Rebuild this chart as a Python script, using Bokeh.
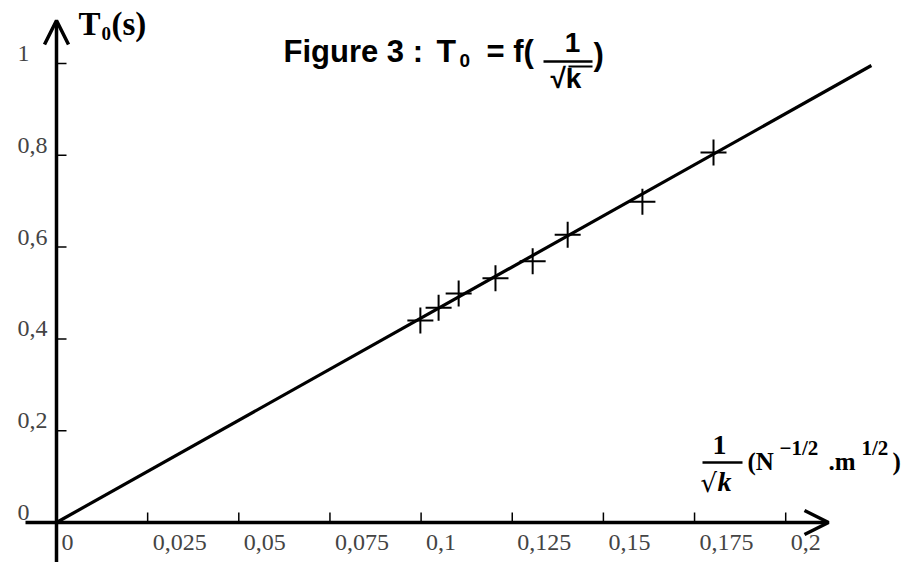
from bokeh.plotting import figure
from bokeh.models import Arrow, OpenHead
from bokeh.embed import file_html
from bokeh.resources import INLINE
from bokeh.core.properties import value

# ---- data ----
x_ticks = [0.025, 0.05, 0.075, 0.1, 0.125, 0.15, 0.175, 0.2]
x_label_vals = [0, 0.025, 0.05, 0.075, 0.1, 0.125, 0.15, 0.175, 0.2]
x_tick_labels = ["0", "0,025", "0,05", "0,075", "0,1", "0,125", "0,15", "0,175", "0,2"]
y_ticks = [0.2, 0.4, 0.6, 0.8, 1.0]
y_label_vals = [0, 0.2, 0.4, 0.6, 0.8, 1.0]
y_tick_labels = ["0", "0,2", "0,4", "0,6", "0,8", "1"]
inv_sqrt_k = [0.0998, 0.1048, 0.1103, 0.1204, 0.1306, 0.1402, 0.1607, 0.1802]
T0 = [0.440, 0.468, 0.499, 0.532, 0.569, 0.627, 0.699, 0.806]
fit_x = [0.0, 0.2235]
fit_y = [0.0, 0.9956]

# ---- layout constants (picture pixels -> data) ----
W, H = 909, 562
X0P, SX = 56.0, 3646.0   # picture x of x=0, px per unit
Y0P, SY = 522.0, 459.0   # picture y of y=0, px per unit


def px(xp):
    return (xp - X0P) / SX


def py(yp):
    return (Y0P - yp) / SY


p = figure(width=W, height=H, output_backend="svg", toolbar_location=None,
           x_range=(px(0), px(W)), y_range=(py(H), py(0)),
           x_axis_type=None, y_axis_type=None, min_border=0)
p.outline_line_color = None
p.grid.visible = False
p.background_fill_color = "white"
p.border_fill_color = "white"

# axes with arrow heads
p.add_layout(Arrow(end=OpenHead(size=24, line_width=3.5, line_color="black"),
                   x_start=px(25), y_start=0, x_end=px(828), y_end=0,
                   line_width=3.5, line_color="black"))
p.add_layout(Arrow(end=OpenHead(size=24, line_width=3.5, line_color="black"),
                   x_start=0, y_start=py(600), x_end=0, y_end=py(20),
                   line_width=3.5, line_color="black"))

# ticks
p.segment(x0=x_ticks, y0=[0] * len(x_ticks), x1=x_ticks, y1=[10 / SY] * len(x_ticks),
          line_color="black", line_width=1.5)
p.segment(x0=[0] * len(y_ticks), y0=y_ticks, x1=[10 / SX] * len(y_ticks), y1=y_ticks,
          line_color="black", line_width=1.5)

# tick labels
p.text(x=x_label_vals, y=[0] * len(x_label_vals), text=x_tick_labels,
       x_offset=5, y_offset=20, text_align="left", text_baseline="alphabetic",
       text_font=value("Liberation Serif"), text_font_size="24px", text_color="#444444")
p.text(x=[0] * len(y_label_vals), y=y_label_vals, text=y_tick_labels,
       x_offset=-39, y_offset=-10, text_align="left", text_baseline="middle",
       text_font=value("Liberation Serif"), text_font_size="24px", text_color="#444444")

# fitted line and measured points
p.line(fit_x, fit_y, line_color="black", line_width=3.2)
p.scatter(inv_sqrt_k, T0, marker="cross", size=26, line_color="black", line_width=2)


def lab(xp, yp, text, size, font="Liberation Serif", style="bold", align="left"):
    # yp = wanted baseline in picture pixels; compensate renderer's baseline shift
    p.text(x=[px(xp)], y=[py(yp - 0.38 * size)], text=[text], text_font=value(font),
           text_font_size=f"{size}px", text_font_style=style,
           text_align=align, text_baseline="alphabetic", text_color="black")


# y-axis title T0(s)
lab(78, 36, "T", 33)
lab(101, 40, "0", 19)
lab(111, 36, "(s)", 33)

# chart title
SANS = "Liberation Sans"
lab(283, 63, "Figure 3 :", 31, SANS)
lab(436, 63, "T", 32, SANS)
lab(459, 67, "0", 19, SANS)
lab(486, 63, "= f(", 31, SANS)
lab(572, 53, "1", 28, SANS, align="center")
lab(550, 89, "√k", 28, SANS)
lab(593, 66, ")", 31, SANS)
p.segment(x0=[px(543)], y0=[py(61)], x1=[px(592)], y1=[py(61)], line_color="black", line_width=2.5)
p.segment(x0=[px(568)], y0=[py(66)], x1=[px(592)], y1=[py(66)], line_color="black", line_width=2)

# x-axis title 1/sqrt(k) (N^-1/2.m^1/2)
lab(719, 455, "1", 28, align="center")
p.segment(x0=[px(702)], y0=[py(462)], x1=[px(742)], y1=[py(462)], line_color="black", line_width=2.5)
lab(700, 492, "√", 26, "DejaVu Serif", "normal")
lab(717, 492, "k", 28, style="bold italic")
lab(747, 470, "(N", 25)
lab(779, 455, "−1/2", 21)
lab(828, 470, ".m", 25)
lab(861, 455, "1/2", 21)
lab(892, 470, ")", 25)

open("out.html", "w").write(file_html(p, INLINE))
